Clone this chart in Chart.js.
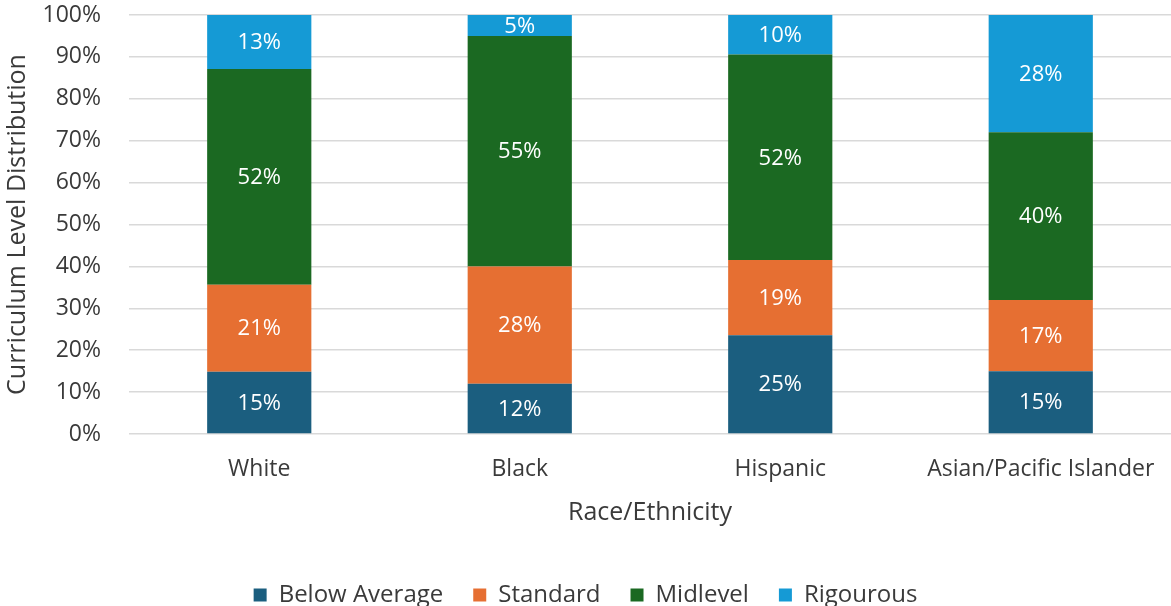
<!DOCTYPE html>
<html>
<head>
<meta charset="utf-8">
<script src="https://cdn.jsdelivr.net/npm/chart.js@4.4.1/dist/chart.umd.min.js"></script>
<style>
  html, body { margin: 0; padding: 0; background: #fff; }
  #wrap { width: 1171px; height: 606px; position: relative; }
</style>
</head>
<body>
<div id="wrap"><canvas id="curriculumChart"></canvas></div>
<script>
const groups = ['White', 'Black', 'Hispanic', 'Asian/Pacific Islander'];

// shares per group, as printed on each segment
const belowAverage = [15, 12, 25, 15];
const standard = [21, 28, 19, 17];
const midlevel = [52, 55, 52, 40];
const rigourous = [13, 5, 10, 28];

const levelNames = ['Below Average', 'Standard', 'Midlevel', 'Rigourous'];
const levelColors = ['#1b5e7f', '#e66f32', '#1b6922', '#159ad5'];

const yTicks = [0, 10, 20, 30, 40, 50, 60, 70, 80, 90, 100];

const series = [belowAverage, standard, midlevel, rigourous];

// 100% stacked: each column is scaled so its segments fill the full height
const totals = groups.map((g, i) => series.reduce((s, arr) => s + arr[i], 0));

const fontFamily = "'Open Sans', 'Noto Sans', sans-serif";
const textColor = '#3a3a3a';

const datasets = series.map((arr, k) => ({
    label: levelNames[k],
    data: arr.map((v, i) => v / totals[i] * 100),
    raw: arr,
    backgroundColor: levelColors[k],
    borderWidth: 0,
    barPercentage: 0.4,
    categoryPercentage: 1.0
}));

// writes the printed value in the middle of each segment
const segmentLabels = {
    id: 'segmentLabels',
    afterDatasetsDraw(chart) {
        const ctx = chart.ctx;
        ctx.save();
        ctx.fillStyle = '#ffffff';
        ctx.font = '22px ' + fontFamily;
        ctx.textAlign = 'center';
        ctx.textBaseline = 'middle';
        chart.data.datasets.forEach((ds, k) => {
            const meta = chart.getDatasetMeta(k);
            meta.data.forEach((bar, i) => {
                const p = bar.getProps(['x', 'y', 'base'], true);
                ctx.fillText(ds.raw[i] + '%', p.x, (p.y + p.base) / 2 + 1);
            });
        });
        ctx.restore();
    }
};

new Chart(document.getElementById('curriculumChart'), {
    type: 'bar',
    data: { labels: groups, datasets: datasets },
    options: {
        responsive: true,
        maintainAspectRatio: false,
        animation: false,
        layout: { padding: { top: 15, right: 0, left: 0, bottom: -11 } },
        plugins: {
            tooltip: { enabled: false },
            legend: {
                position: 'bottom',
                labels: {
                    boxWidth: 13,
                    boxHeight: 13,
                    padding: 30,
                    color: textColor,
                    font: { family: fontFamily, size: 24 }
                }
            }
        },
        scales: {
            x: {
                stacked: true,
                grid: { display: false },
                border: { display: false },
                afterFit(scale) {
                    scale.height = 119;
                    scale.paddingLeft = 0;
                    scale.paddingRight = 0;
                },
                ticks: {
                    color: textColor,
                    padding: 14,
                    maxRotation: 0,
                    font: { family: fontFamily, size: 23 }
                },
                title: {
                    display: true,
                    text: 'Race/Ethnicity',
                    color: textColor,
                    font: { family: fontFamily, size: 25 },
                    padding: { top: 0, bottom: 25 }
                }
            },
            y: {
                stacked: true,
                min: 0,
                max: 100,
                afterBuildTicks(axis) {
                    axis.ticks = yTicks.map(v => ({ value: v }));
                },
                afterFit(scale) {
                    scale.width = 129;
                    scale.paddingTop = 0;
                    scale.paddingBottom = 0;
                },
                grid: { color: '#d9d9d9', lineWidth: 1.5, drawTicks: false },
                border: { display: false },
                ticks: {
                    color: textColor,
                    padding: 28,
                    font: { family: fontFamily, size: 23 },
                    callback: v => v + '%'
                },
                title: {
                    display: true,
                    text: 'Curriculum Level Distribution',
                    color: textColor,
                    font: { family: fontFamily, size: 25 },
                    padding: { top: 3, bottom: 0 }
                }
            }
        }
    },
    plugins: [segmentLabels]
});
</script>
</body>
</html>
